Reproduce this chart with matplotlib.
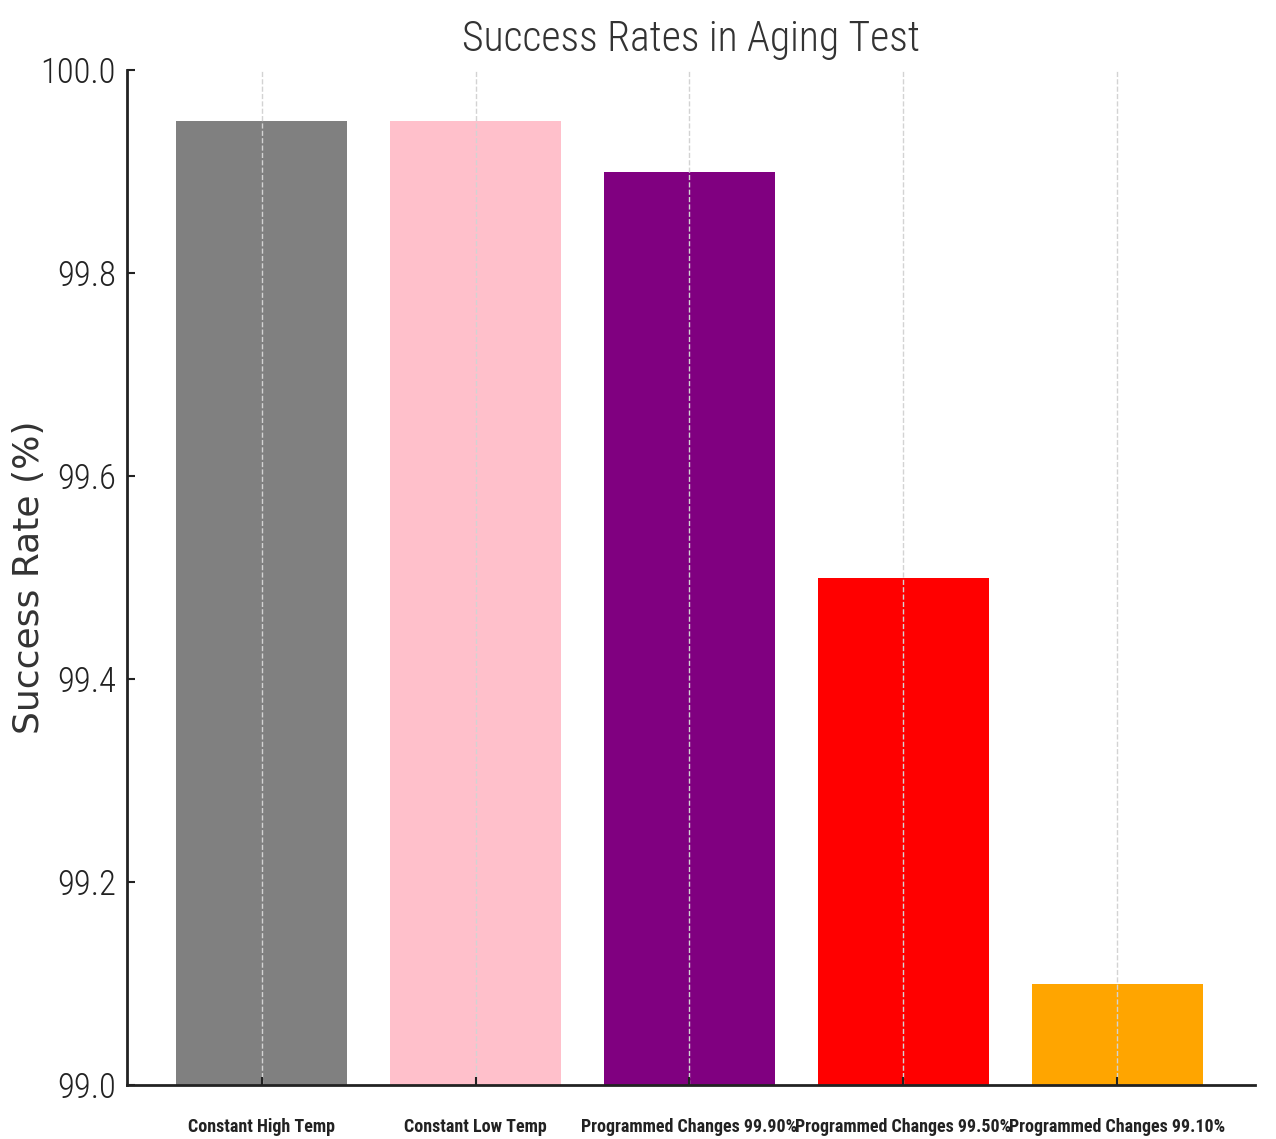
import matplotlib.pyplot as plt
import numpy as np

categories = ['Constant High Temp', 'Constant Low Temp', 'Programmed Changes 99.90%',
              'Programmed Changes 99.50%', 'Programmed Changes 99.10%']
rates = [99.95, 99.95, 99.90, 99.50, 99.10]
colors = ['gray', 'pink', 'purple', 'red', 'orange']
yticks = [99.0, 99.2, 99.4, 99.6, 99.8, 100.0]

fig = plt.figure(figsize=(12.76, 11.39), dpi=100)
ax = fig.add_axes([127/1276, 1-1085/1139, (1255-127)/1276, (1085-70)/1139])

x = np.arange(len(categories))
ax.bar(x, rates, width=0.8, color=colors)
ax.set_ylim(99.0, 100.0)
ax.set_xlim(-0.63, 4.645)
ax.set_yticks(yticks)
ax.set_yticklabels(['%.1f' % v for v in yticks], fontsize=25, family='Roboto Condensed',
                   fontweight='light')
ax.set_xticks(x)
ax.set_xticklabels(categories, fontsize=13, fontweight='bold', family='Roboto Condensed')
ax.tick_params(direction='in', length=6, width=1.5, colors='#222222')
ax.tick_params(axis='x', pad=24)
ax.tick_params(axis='y', pad=8)

ax.grid(axis='x', linestyle='--', color='lightgray', linewidth=1)
for s in ['top', 'right']:
    ax.spines[s].set_visible(False)
for s in ['left', 'bottom']:
    ax.spines[s].set_linewidth(2)
    ax.spines[s].set_color('#222222')

ax.set_ylabel('Success Rate (%)', fontsize=26, color='#333333')
ax.yaxis.set_label_coords(-0.072, 0.5)
ax.set_title('Success Rates in Aging Test', fontsize=30, family='Roboto Condensed',
             fontweight='light', color='#333333', pad=14)

fig.savefig('out.png', dpi=100)
